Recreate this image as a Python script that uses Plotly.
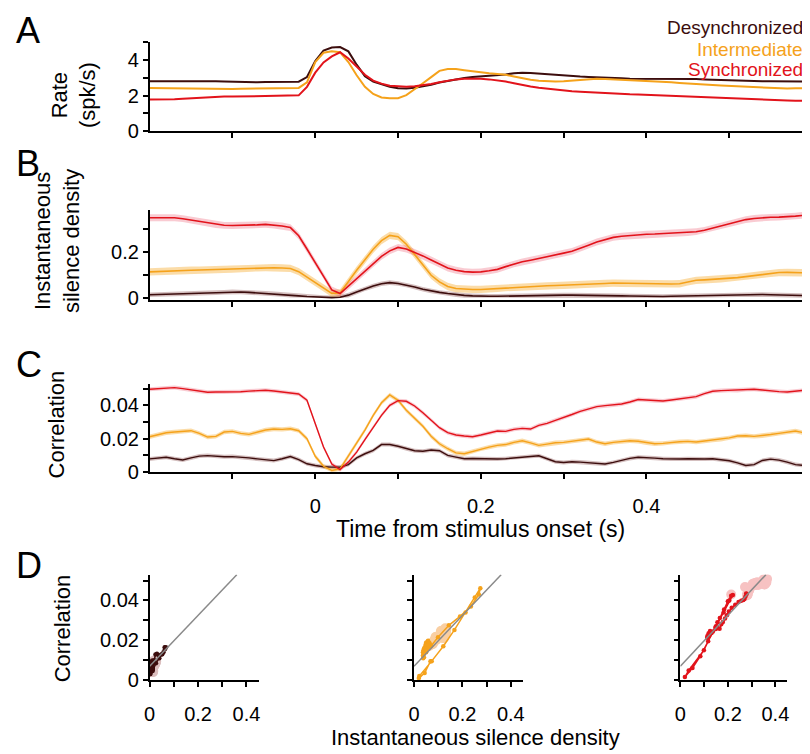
import numpy as np
import plotly.graph_objects as go

# ---------------- data ----------------
TIME_START = -0.2
TIME_STEP = 0.01

GROUPS = ["Desynchronized", "Intermediate", "Synchronized"]

RATE_DESYNC = [
    2.82, 2.82, 2.84, 2.85, 2.86, 2.84, 2.85, 2.84, 2.82, 2.80,
    2.78, 2.79, 2.78, 2.76, 2.77, 2.78, 2.77, 2.78, 2.79, 3.05,
    3.95, 4.55, 4.72, 4.74, 4.50, 3.75, 3.10, 2.80, 2.63, 2.50,
    2.42, 2.40, 2.45, 2.52, 2.62, 2.74, 2.84, 2.92, 3.00, 3.05,
    3.08, 3.12, 3.16, 3.20, 3.26, 3.30, 3.28, 3.24, 3.20, 3.17,
    3.14, 3.10, 3.08, 3.06, 3.05, 3.03, 3.00, 2.98, 2.96, 2.96,
    2.97, 2.98, 2.97, 2.96, 2.96, 2.95, 2.94, 2.92, 2.90, 2.89,
    2.88, 2.87, 2.85, 2.83, 2.82, 2.81, 2.80, 2.79, 2.79, 2.79,
    2.79]
RATE_INTER = [
    2.44, 2.43, 2.42, 2.41, 2.40, 2.40, 2.41, 2.40, 2.39, 2.38,
    2.38, 2.39, 2.40, 2.40, 2.41, 2.42, 2.42, 2.43, 2.44, 2.75,
    3.90, 4.42, 4.50, 4.45, 3.90, 3.15, 2.50, 2.10, 1.90, 1.85,
    1.86, 2.03, 2.35, 2.70, 3.05, 3.40, 3.50, 3.50, 3.44, 3.37,
    3.30, 3.26, 3.22, 3.18, 3.08, 2.98, 2.90, 2.84, 2.80, 2.80,
    2.82, 2.86, 2.90, 2.94, 2.95, 2.94, 2.92, 2.90, 2.88, 2.87,
    2.86, 2.84, 2.80, 2.76, 2.72, 2.70, 2.68, 2.64, 2.60, 2.57,
    2.55, 2.54, 2.52, 2.50, 2.46, 2.42, 2.40, 2.40, 2.42, 2.43,
    2.43]
RATE_SYNC = [
    1.78, 1.78, 1.79, 1.80, 1.83, 1.86, 1.89, 1.92, 1.94, 1.95,
    1.95, 1.96, 1.97, 1.97, 1.98, 1.98, 1.99, 2.00, 2.02, 2.50,
    3.30, 3.88, 4.22, 4.45, 4.10, 3.65, 3.18, 2.85, 2.68, 2.56,
    2.52, 2.50, 2.53, 2.58, 2.66, 2.76, 2.86, 2.92, 2.95, 2.96,
    2.96, 2.92, 2.88, 2.80, 2.70, 2.60, 2.52, 2.45, 2.39, 2.33,
    2.29, 2.25, 2.22, 2.19, 2.16, 2.13, 2.11, 2.09, 2.08, 2.07,
    2.05, 2.03, 2.01, 1.99, 1.96, 1.94, 1.92, 1.90, 1.88, 1.87,
    1.86, 1.84, 1.82, 1.80, 1.78, 1.76, 1.75, 1.73, 1.72, 1.72,
    1.71]

SILENCE_DESYNC = [
    0.014, 0.015, 0.016, 0.017, 0.018, 0.019, 0.020, 0.021, 0.023, 0.025,
    0.027, 0.026, 0.024, 0.022, 0.020, 0.018, 0.015, 0.012, 0.009, 0.006,
    0.004, 0.002, 0.001, 0.003, 0.012, 0.026, 0.040, 0.052, 0.062, 0.067,
    0.063, 0.057, 0.048, 0.038, 0.030, 0.024, 0.019, 0.014, 0.011, 0.009,
    0.007, 0.007, 0.007, 0.008, 0.008, 0.009, 0.010, 0.011, 0.012, 0.012,
    0.012, 0.012, 0.012, 0.012, 0.012, 0.011, 0.010, 0.009, 0.008, 0.007,
    0.006, 0.006, 0.006, 0.007, 0.008, 0.009, 0.010, 0.011, 0.012, 0.012,
    0.013, 0.014, 0.014, 0.015, 0.015, 0.014, 0.013, 0.011, 0.010, 0.009,
    0.009]
SILENCE_INTER = [
    0.114, 0.116, 0.117, 0.119, 0.120, 0.121, 0.122, 0.123, 0.124, 0.125,
    0.126, 0.127, 0.129, 0.132, 0.133, 0.132, 0.131, 0.129, 0.115, 0.091,
    0.068, 0.044, 0.020, 0.022, 0.073, 0.121, 0.167, 0.213, 0.251, 0.274,
    0.268, 0.235, 0.190, 0.144, 0.099, 0.070, 0.050, 0.041, 0.038, 0.037,
    0.037, 0.039, 0.042, 0.045, 0.048, 0.050, 0.051, 0.052, 0.053, 0.054,
    0.055, 0.056, 0.057, 0.058, 0.060, 0.063, 0.065, 0.064, 0.063, 0.062,
    0.061, 0.061, 0.061, 0.061, 0.062, 0.070, 0.077, 0.079, 0.081, 0.083,
    0.086, 0.089, 0.093, 0.098, 0.104, 0.108, 0.111, 0.112, 0.111, 0.110,
    0.109]
SILENCE_SYNC = [
    0.351, 0.352, 0.352, 0.351, 0.347, 0.341, 0.335, 0.328, 0.321, 0.318,
    0.317, 0.317, 0.318, 0.320, 0.322, 0.319, 0.315, 0.308, 0.272, 0.214,
    0.156, 0.099, 0.035, 0.019, 0.051, 0.084, 0.117, 0.150, 0.182, 0.206,
    0.221, 0.214, 0.200, 0.184, 0.166, 0.148, 0.131, 0.121, 0.115, 0.113,
    0.114, 0.119, 0.125, 0.137, 0.149, 0.158, 0.165, 0.172, 0.179, 0.188,
    0.196, 0.204, 0.216, 0.231, 0.245, 0.256, 0.265, 0.270, 0.274, 0.277,
    0.279, 0.280, 0.282, 0.283, 0.284, 0.286, 0.290, 0.296, 0.305, 0.314,
    0.324, 0.334, 0.343, 0.348, 0.352, 0.353, 0.354, 0.355, 0.358, 0.362,
    0.365]

CORR_DESYNC = [
    0.0079, 0.0084, 0.0089, 0.0080, 0.0073, 0.0085, 0.0096, 0.0099, 0.0095, 0.0092,
    0.0093, 0.0090, 0.0085, 0.0079, 0.0074, 0.0069, 0.0080, 0.0093, 0.0075, 0.0050,
    0.0040, 0.0032, 0.0030, 0.0030, 0.0045, 0.0085, 0.0110, 0.0130, 0.0165, 0.0165,
    0.0155, 0.0140, 0.0128, 0.0125, 0.0132, 0.0128, 0.0100, 0.0090, 0.0080, 0.0082,
    0.0080, 0.0078, 0.0079, 0.0080, 0.0085, 0.0090, 0.0095, 0.0098, 0.0080, 0.0062,
    0.0058, 0.0062, 0.0060, 0.0055, 0.0052, 0.0049, 0.0058, 0.0070, 0.0082, 0.0089,
    0.0088, 0.0084, 0.0080, 0.0078, 0.0079, 0.0080, 0.0078, 0.0079, 0.0080, 0.0074,
    0.0068, 0.0055, 0.0040, 0.0045, 0.0070, 0.0078, 0.0072, 0.0060, 0.0045, 0.0040,
    0.0053]
CORR_INTER = [
    0.0212, 0.0225, 0.0236, 0.0240, 0.0246, 0.0248, 0.0232, 0.0210, 0.0214, 0.0240,
    0.0244, 0.0232, 0.0226, 0.0238, 0.0252, 0.0258, 0.0256, 0.0260, 0.0248, 0.0200,
    0.0095, 0.0035, 0.0010, 0.0020, 0.0095, 0.0170, 0.0252, 0.0340, 0.0415, 0.0462,
    0.0430, 0.0370, 0.0320, 0.0275, 0.0215, 0.0170, 0.0140, 0.0115, 0.0110, 0.0124,
    0.0140, 0.0150, 0.0160, 0.0165, 0.0178, 0.0188, 0.0175, 0.0160, 0.0168, 0.0176,
    0.0178, 0.0185, 0.0192, 0.0198, 0.0180, 0.0170, 0.0178, 0.0184, 0.0188, 0.0185,
    0.0176, 0.0170, 0.0172, 0.0178, 0.0182, 0.0184, 0.0180, 0.0186, 0.0192, 0.0196,
    0.0205, 0.0216, 0.0218, 0.0214, 0.0218, 0.0225, 0.0232, 0.0240, 0.0246, 0.0236,
    0.0224]
CORR_SYNC = [
    0.0496, 0.0500, 0.0504, 0.0506, 0.0500, 0.0492, 0.0484, 0.0478, 0.0480, 0.0479,
    0.0482, 0.0481, 0.0485, 0.0488, 0.0490, 0.0486, 0.0480, 0.0476, 0.0468, 0.0430,
    0.0290, 0.0150, 0.0048, 0.0015, 0.0060, 0.0120, 0.0195, 0.0270, 0.0340, 0.0400,
    0.0428, 0.0424, 0.0396, 0.0355, 0.0312, 0.0266, 0.0236, 0.0222, 0.0216, 0.0212,
    0.0222, 0.0235, 0.0246, 0.0244, 0.0256, 0.0262, 0.0258, 0.0280, 0.0292, 0.0310,
    0.0326, 0.0345, 0.0364, 0.0378, 0.0392, 0.0398, 0.0402, 0.0408, 0.0420, 0.0435,
    0.0432, 0.0428, 0.0426, 0.0432, 0.0438, 0.0446, 0.0452, 0.0470, 0.0484, 0.0488,
    0.0490, 0.0488, 0.0494, 0.0496, 0.0492, 0.0486, 0.0482, 0.0480, 0.0486, 0.0490,
    0.0508]

SILENCE_SEM = [0.010, 0.016, 0.015]
CORR_SEM = [0.0012, 0.0013, 0.0012]

# time window drawn dark in panel D (stimulus-evoked period)
EVOKED_WINDOW = [0.0, 0.40]

# pooled regression line (correlation vs silence density)
REG_X = [0.0, 0.36]
REG_INTERCEPT = 0.0069
REG_SLOPE = 0.128

TIME_TICKS = [-0.1, 0.0, 0.1, 0.2, 0.3, 0.4, 0.5]
TIME_TICKTEXT = ["", "0", "", "0.2", "", "0.4", ""]
RATE_TICKS = [0, 1, 2, 3, 4, 5]
RATE_TICKTEXT = ["0", "", "2", "", "4", ""]
SIL_TICKS = [0, 0.1, 0.2, 0.3]
SIL_TICKTEXT = ["0", "", "0.2", ""]
CORR_TICKS = [0, 0.01, 0.02, 0.03, 0.04, 0.05]
CORR_TICKTEXT = ["0", "", "0.02", "", "0.04", ""]
D_X_TICKS = [0, 0.1, 0.2, 0.3, 0.4]
D_X_TICKTEXT = ["0", "", "0.2", "", "0.4"]

# ---------------- styles ----------------
COLORS = ["#3c0d0d", "#f5a21b", "#e2131b"]
BAND_COLORS = ["rgba(125,60,60,0.33)", "rgba(245,162,27,0.38)", "rgba(235,70,95,0.28)"]
LIGHT_COLORS = ["#dcbfbf", "#f9cfa3", "#f7c2c2"]
FONT = "Liberation Sans, Arial, sans-serif"

W, H = 810, 754


def px(x):
    return x / W


def py(y):
    return 1 - y / H


t = np.round(TIME_START + TIME_STEP * np.arange(len(RATE_DESYNC)), 3)
rates = [RATE_DESYNC, RATE_INTER, RATE_SYNC]
silences = [SILENCE_DESYNC, SILENCE_INTER, SILENCE_SYNC]
corrs = [CORR_DESYNC, CORR_INTER, CORR_SYNC]

fig = go.Figure()


def band(x, y, sem, color, xa, ya):
    y = np.asarray(y)
    up = y + sem
    lo = np.clip(y - sem, 0, None)
    fig.add_trace(go.Scatter(
        x=np.concatenate([x, x[::-1]]), y=np.concatenate([up, lo[::-1]]),
        fill="toself", fillcolor=color, line=dict(width=0), mode="lines",
        hoverinfo="skip", xaxis=xa, yaxis=ya))


# Panel A
for i in range(3):
    fig.add_trace(go.Scatter(x=t, y=rates[i], mode="lines", name=GROUPS[i],
                             line=dict(color=COLORS[i], width=2),
                             xaxis="x", yaxis="y"))
# Panel B
for i in range(3):
    band(t, silences[i], SILENCE_SEM[i], BAND_COLORS[i], "x2", "y2")
for i in range(3):
    fig.add_trace(go.Scatter(x=t, y=silences[i], mode="lines",
                             line=dict(color=COLORS[i], width=1.6),
                             xaxis="x2", yaxis="y2"))
# Panel C
for i in range(3):
    band(t, corrs[i], CORR_SEM[i], BAND_COLORS[i], "x3", "y3")
for i in range(3):
    fig.add_trace(go.Scatter(x=t, y=corrs[i], mode="lines",
                             line=dict(color=COLORS[i], width=1.4),
                             xaxis="x3", yaxis="y3"))

# Panel D
evoked = (t >= EVOKED_WINDOW[0]) & (t <= EVOKED_WINDOW[1])
reg_x = np.array(REG_X)
reg_y = REG_INTERCEPT + REG_SLOPE * reg_x
for i in range(3):
    xa, ya = "x%d" % (4 + i), "y%d" % (4 + i)
    s = np.asarray(silences[i])
    c = np.asarray(corrs[i])
    fig.add_trace(go.Scatter(x=s[~evoked], y=c[~evoked], mode="markers",
                             marker=dict(color=LIGHT_COLORS[i], size=10),
                             xaxis=xa, yaxis=ya))
    fig.add_trace(go.Scatter(x=s[evoked], y=c[evoked], mode="lines+markers",
                             line=dict(color=COLORS[i], width=1.5),
                             marker=dict(color=COLORS[i], size=4.5),
                             xaxis=xa, yaxis=ya))
    fig.add_trace(go.Scatter(x=reg_x, y=reg_y, mode="lines",
                             line=dict(color="#8a8a8a", width=1.5),
                             xaxis=xa, yaxis=ya))

axis_style = dict(showline=True, linecolor="black", linewidth=1.5, ticks="outside",
                  ticklen=5, tickwidth=1.5, tickcolor="black", showgrid=False,
                  zeroline=False, tickfont=dict(family=FONT, size=20, color="black"),
                  mirror=False)

XDOM = [px(137), px(806)]
layout = dict(
    width=W, height=H, margin=dict(l=0, r=0, t=0, b=0),
    plot_bgcolor="white", paper_bgcolor="white", showlegend=False,
    font=dict(family=FONT, color="black"),
    xaxis=dict(domain=XDOM, anchor="y", range=[-0.2, 0.6], tickvals=TIME_TICKS,
               showticklabels=False, **axis_style),
    yaxis=dict(domain=[py(125), py(35)], anchor="x", range=[0, 5],
               tickvals=RATE_TICKS, ticktext=RATE_TICKTEXT, **axis_style),
    xaxis2=dict(domain=XDOM, anchor="y2", range=[-0.2, 0.6], tickvals=TIME_TICKS,
                showticklabels=False, **axis_style),
    yaxis2=dict(domain=[py(296.5), py(205)], anchor="x2", range=[-0.01, 0.385],
                tickvals=SIL_TICKS, ticktext=SIL_TICKTEXT, **axis_style),
    xaxis3=dict(domain=XDOM, anchor="y3", range=[-0.2, 0.6], tickvals=TIME_TICKS,
                ticktext=TIME_TICKTEXT, ticklabelstandoff=10, **axis_style),
    yaxis3=dict(domain=[py(471), py(382)], anchor="x3", range=[0, 0.0525],
                tickvals=CORR_TICKS, ticktext=CORR_TICKTEXT, **axis_style),
)
d_xdoms = [[px(137), px(247)], [px(404), px(514)], [px(673), px(781)]]
for i in range(3):
    k = 4 + i
    layout["xaxis%d" % k] = dict(domain=d_xdoms[i], anchor="y%d" % k, range=[0, 0.45],
                                 tickvals=D_X_TICKS, ticktext=D_X_TICKTEXT,
                                 ticklabelstandoff=10, **axis_style)
    layout["yaxis%d" % k] = dict(domain=[py(682), py(575)], anchor="x%d" % k,
                                 range=[0, 0.053], tickvals=CORR_TICKS,
                                 ticktext=CORR_TICKTEXT, showticklabels=(i == 0),
                                 **axis_style)
fig.update_layout(**layout)

ann = []


def add_text(text, x, y, size, color="black", xanchor="center", angle=0):
    ann.append(dict(x=px(x), y=py(y), xref="paper", yref="paper", text=text,
                    showarrow=False, xanchor=xanchor, yanchor="middle",
                    textangle=angle,
                    font=dict(family=FONT, size=size, color=color)))


for letter, y in [("A", 23), ("B", 158), ("C", 362), ("D", 566)]:
    add_text(letter, 0, y, 36, xanchor="left")
ylabels = [("Rate<br>(spk/s)", 60, 88), ("Instantaneous<br>silence density", 43, 237),
           ("Correlation", 43, 423), ("Correlation", 49, 630)]
for text, x, y in ylabels:
    add_text(text, x, y, 22, angle=-90)
add_text("Time from stimulus onset (s)", 471, 529, 23)
add_text("Instantaneous silence density", 466, 740, 22)
for i, y in enumerate([20, 42, 62]):
    add_text(GROUPS[i], 799, y, 19, color=COLORS[i], xanchor="right")
fig.update_layout(annotations=ann)

fig.write_html("out.html")
